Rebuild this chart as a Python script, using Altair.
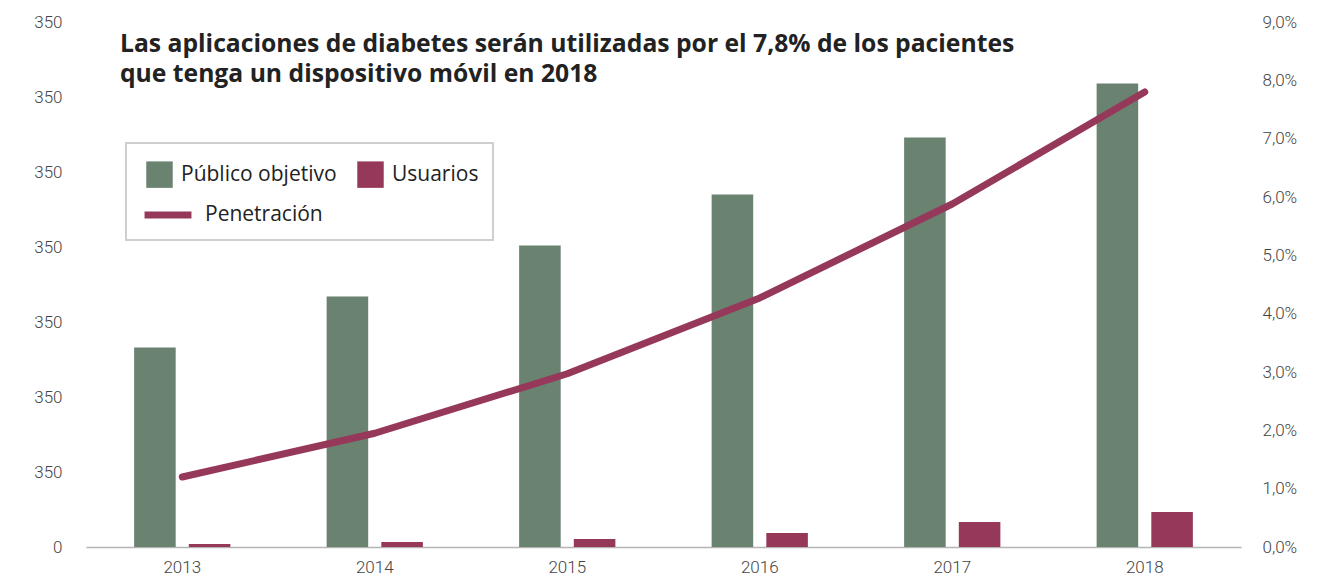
import altair as alt
import pandas as pd

years = ["2013", "2014", "2015", "2016", "2017", "2018"]
publico = [133, 167, 201, 235, 273, 309]
usuarios = [2.0, 3.3, 5.3, 9.3, 16.7, 23.3]
penetracion = [0.012, 0.0195, 0.0297, 0.0427, 0.0588, 0.078]
series = ["Público objetivo", "Usuarios"]
line_name = "Penetración"
left_ticks = [0, 50, 100, 150, 200, 250, 300, 350]
right_ticks = [0.0, 0.01, 0.02, 0.03, 0.04, 0.05, 0.06, 0.07, 0.08, 0.09]
title_lines = ["Las aplicaciones de diabetes serán utilizadas por el 7,8% de los pacientes",
               "que tenga un dispositivo móvil en 2018"]

GREEN = "#6A8270"
MAROON = "#96385A"
FONT = "Roboto"
TFONT = "Open Sans"

bars_df = pd.DataFrame({
    "year": years * 2,
    "serie": [series[0]] * len(years) + [series[1]] * len(years),
    "value": publico + usuarios,
})
line_df = pd.DataFrame({"year": years, "pen": penetracion, "serie": [line_name] * len(years)})
dummy = pd.DataFrame({"a": [0]})

x_enc = alt.X("year:N", sort=years, title=None,
              scale=alt.Scale(paddingInner=0.5, paddingOuter=0.25),
              axis=alt.Axis(labelAngle=0, ticks=False, domainColor="#b5b5b5", domainWidth=1.5,
                            labelFontSize=17, labelColor="#444", labelFont=FONT, labelFontWeight=300,
                            labelPadding=12))

box = alt.Chart(dummy).mark_rect(fill="white", stroke="#cfcfcf", strokeWidth=2).encode(
    x=alt.value(40), x2=alt.value(407), y=alt.value(121), y2=alt.value(218))

bars = alt.Chart(bars_df).mark_bar().encode(
    x=x_enc,
    xOffset=alt.XOffset("serie:N", sort=series, scale=alt.Scale(paddingInner=0.24, paddingOuter=0)),
    y=alt.Y("value:Q", title=None, scale=alt.Scale(domain=[0, 350]),
            axis=alt.Axis(orient="left", values=left_ticks,
                          labelExpr="datum.value == 0 ? '0' : '350'",
                          domain=False, ticks=False, grid=False, labelPadding=24,
                          labelFontSize=17, labelColor="#444", labelFont=FONT, labelFontWeight=300)),
    color=alt.Color("serie:N", sort=series, scale=alt.Scale(domain=series, range=[GREEN, MAROON]),
                    legend=alt.Legend(title=None, orient="none", legendX=60, legendY=139,
                                      direction="horizontal", columns=2, symbolType="square",
                                      symbolSize=700, symbolStrokeWidth=0, symbolOpacity=1,
                                      labelFontSize=21, labelColor="#222", labelFont=TFONT,
                                      labelOffset=8, columnPadding=20)),
)

line = alt.Chart(line_df).mark_line(strokeWidth=7, strokeCap="round", strokeJoin="round").encode(
    x=x_enc,
    y=alt.Y("pen:Q", title=None, scale=alt.Scale(domain=[0, 0.09]),
            axis=alt.Axis(orient="right", values=right_ticks,
                          labelExpr="replace(format(datum.value, '.1%'), '.', ',')",
                          domain=False, ticks=False, grid=False, labelPadding=21,
                          labelFontSize=17, labelColor="#444", labelFont=FONT, labelFontWeight=300)),
    stroke=alt.Stroke("serie:N", scale=alt.Scale(domain=[line_name], range=[MAROON]),
                      legend=alt.Legend(title=None, orient="none", legendX=55, legendY=166,
                                        symbolType="stroke", symbolSize=2200, symbolStrokeWidth=7,
                                        labelFontSize=21, labelColor="#222", labelFont=TFONT,
                                        labelOffset=10)),
)

t1 = alt.Chart(dummy).mark_text(align="left", baseline="alphabetic", fontSize=24.7, fontWeight="bold",
                                font=TFONT, color="#222").encode(
    x=alt.value(34), y=alt.value(30), text=alt.value(title_lines[0]))
t2 = alt.Chart(dummy).mark_text(align="left", baseline="alphabetic", fontSize=24.7, fontWeight="bold",
                                font=TFONT, color="#222").encode(
    x=alt.value(34), y=alt.value(60), text=alt.value(title_lines[1]))

chart = alt.layer(box, bars, line, t1, t2).resolve_scale(y="independent").properties(
    width=1155, height=525,
    autosize=alt.AutoSizeParams(type="none"),
    padding={"left": 78, "top": 14, "right": 80, "bottom": 35},
).configure_view(stroke=None)

chart.save("out.html", embed_options={"renderer": "svg", "actions": False})
